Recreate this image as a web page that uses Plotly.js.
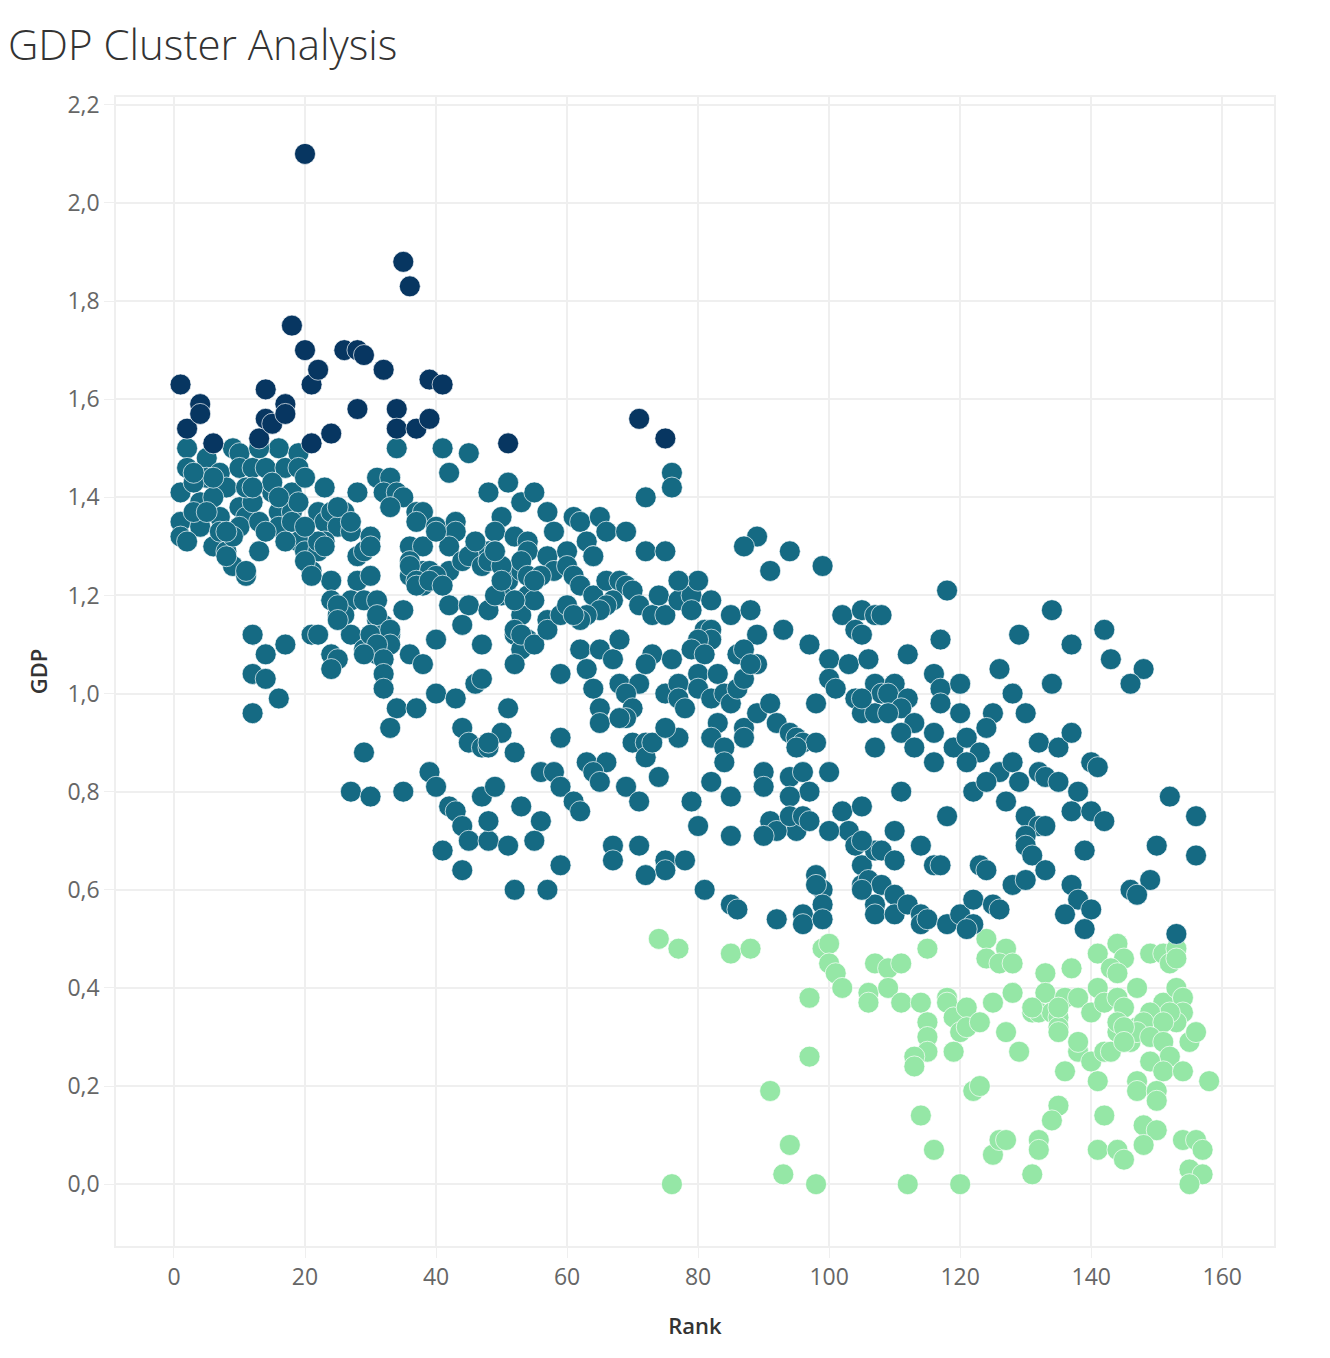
<!DOCTYPE html>
<html>
<head>
<meta charset="utf-8">
<script src="https://cdn.plot.ly/plotly-3.0.1.min.js"></script>
<style>
  html, body { margin: 0; padding: 0; background: #fff; }
  #chart { width: 1330px; height: 1358px; }
</style>
</head>
<body>
<div id="chart"></div>
<script>
// cluster 1: high GDP (dark navy)
const rank1 = [1, 2, 4, 4, 6, 13, 14, 14, 15, 17, 17, 18, 20, 20, 21, 21, 22, 24, 26, 28,
  28, 29, 32, 34, 34, 35, 36, 37, 39, 39, 41, 51, 71, 75];
const gdp1 = [1.63, 1.54, 1.59, 1.57, 1.51, 1.52, 1.62, 1.56, 1.55, 1.59, 1.57, 1.75, 2.10, 1.70, 1.63, 1.51, 1.66, 1.53, 1.70, 1.70,
  1.58, 1.69, 1.66, 1.58, 1.54, 1.88, 1.83, 1.54, 1.64, 1.56, 1.63, 1.51, 1.56, 1.52];

// cluster 2: middle GDP (teal)
const rank2 = [
  2, 2, 1, 1, 1, 5, 5, 4, 4, 7, 7, 6, 8, 9, 10, 10, 10, 11, 10, 8, 9, 11, 13, 12, 14, 13, 15, 16, 13, 17,
  16, 16, 18, 18, 18, 19, 19, 20, 19, 20, 21, 23, 22, 23, 24, 26, 25, 27, 23, 22, 28, 28, 24, 24, 25, 28, 27,
  34, 41, 45, 42, 31, 33, 32, 34, 35, 48,
  33, 37, 38, 37, 40, 43, 43, 51, 50, 53, 55, 49, 52, 54, 25, 27, 30, 29, 30, 36, 38, 42, 46, 48, 49, 36,
  36, 38, 39, 38, 40, 42, 44, 45, 47, 51, 50, 53, 54, 53, 55, 30, 29, 31, 42, 45, 48, 35, 44, 31, 32, 33,
  26, 27, 40, 47, 52, 54, 53, 29, 32, 31, 36,
  8, 11, 2, 20, 21, 22, 23, 25, 25, 21, 22, 24, 25, 24, 31, 30, 33, 33, 31, 32, 29, 32, 32, 36, 40, 37, 37,
  39, 41, 40, 46, 48, 49, 38, 40, 43, 46, 34, 37, 33, 29, 27, 30, 35, 39, 40, 42, 43, 44, 45, 48, 41, 44,
  47, 44, 45, 47, 48, 48, 12, 14, 12, 14, 17, 16, 12,
  57, 58, 61, 62, 63, 64, 65, 66, 69, 72, 76, 76, 72, 75, 54, 53, 54, 50, 49, 50,
  57, 58, 56, 55, 60, 60, 61, 62, 64, 64, 66, 68, 69, 70, 67, 66, 65, 63, 62,
  52, 52, 53, 55, 57, 57, 59, 60, 61, 71, 73, 75, 74, 77, 79, 79, 82, 85, 88, 80, 77,
  81, 82, 82, 80, 89, 93, 89, 87, 94, 91, 99, 102, 105, 107, 104, 105,
  47, 52, 59, 51, 62, 65, 67, 68, 63, 64, 65, 65, 68, 71, 69, 70, 69, 68, 70, 72,
  72, 73, 73, 72, 75, 76, 77, 79, 81, 80, 83, 77, 78, 80, 82, 84, 85, 86, 87, 89, 86, 87, 88,
  83, 87, 87, 89, 91, 92, 94, 95, 96, 98, 95, 97, 100, 103, 106, 100, 101, 104, 105, 107, 107,
  98, 77, 75, 74, 82, 84, 84, 82, 85, 79, 80, 85, 90, 90, 94, 96, 97, 94, 95,
  91, 92, 90, 94, 96, 97, 100, 102, 103, 105, 104, 105, 107, 98, 99, 105, 100,
  59, 56, 58, 59, 61, 62, 63, 66, 64, 65, 50, 48, 52, 49, 53, 56, 51, 55, 59, 52, 57,
  69, 71, 67, 67, 71, 75, 75, 78, 72, 81, 107, 108,
  118, 108, 117, 112, 116, 117, 120, 110, 109, 112, 111, 105, 109, 117, 120, 113, 111, 113, 116, 116,
  119, 121, 123, 121, 126, 129, 134, 137, 142, 143, 148, 146, 134, 128, 125, 124, 130, 132, 135, 137,
  126, 128, 129, 132, 133, 135, 140, 141, 138, 122, 124, 127, 111, 118, 110,
  137, 140, 142, 130, 132, 133, 130, 130, 131, 139, 152, 156, 156, 150, 149, 146, 147, 153,
  105, 114, 108, 110, 106, 108, 110, 107, 107, 110, 112, 114, 114, 115, 118, 116, 117, 123, 124,
  120, 122, 122, 125, 126, 128, 130, 133, 137, 138, 140, 136, 139,
  85, 86, 92, 96, 96, 98, 99, 99, 105, 121,
  3, 6, 3, 7, 9, 12, 15, 17, 19, 6, 3, 11, 14, 8, 5, 16, 12, 20
];
const gdp2 = [
  1.50, 1.46, 1.41, 1.35, 1.32, 1.48, 1.44, 1.39, 1.34, 1.45, 1.36, 1.30, 1.42, 1.50, 1.49, 1.46, 1.38, 1.36, 1.34, 1.29, 1.26, 1.24, 1.29, 1.46, 1.46, 1.35, 1.41, 1.50, 1.50, 1.46,
  1.37, 1.34, 1.41, 1.37, 1.35, 1.49, 1.46, 1.44, 1.31, 1.29, 1.25, 1.42, 1.37, 1.35, 1.37, 1.37, 1.34, 1.33, 1.31, 1.29, 1.41, 1.28, 1.23, 1.19, 1.16, 1.23, 1.19,
  1.50, 1.50, 1.49, 1.45, 1.44, 1.44, 1.41, 1.41, 1.40, 1.41,
  1.38, 1.37, 1.37, 1.35, 1.34, 1.35, 1.33, 1.43, 1.36, 1.39, 1.41, 1.33, 1.32, 1.31, 1.38, 1.35, 1.32, 1.29, 1.30, 1.30, 1.30, 1.30, 1.30, 1.29, 1.29, 1.27,
  1.24, 1.25, 1.25, 1.22, 1.23, 1.25, 1.27, 1.28, 1.26, 1.23, 1.20, 1.25, 1.20, 1.16, 1.19, 1.24, 1.19, 1.19, 1.18, 1.18, 1.17, 1.17, 1.14, 1.15, 1.14, 1.12,
  1.16, 1.12, 1.11, 1.10, 1.12, 1.11, 1.09, 1.09, 1.10, 1.08, 1.08,
  1.28, 1.25, 1.31, 1.27, 1.24, 1.31, 1.30, 1.18, 1.15, 1.12, 1.12, 1.08, 1.07, 1.05, 1.16, 1.12, 1.13, 1.10, 1.10, 1.07, 1.08, 1.04, 1.01, 1.26, 1.24, 1.23, 1.22,
  1.23, 1.22, 1.33, 1.31, 1.27, 1.20, 1.06, 1.00, 0.99, 1.02, 0.97, 0.97, 0.93, 0.88, 0.80, 0.79, 0.80, 0.84, 0.81, 0.77, 0.76, 0.73, 0.70, 0.70, 0.68, 0.64,
  0.79, 0.93, 0.90, 0.89, 0.89, 0.74, 1.12, 1.08, 1.04, 1.03, 1.10, 0.99, 0.96,
  1.37, 1.33, 1.36, 1.35, 1.31, 1.28, 1.36, 1.33, 1.33, 1.40, 1.45, 1.42, 1.29, 1.29, 1.29, 1.27, 1.24, 1.26, 1.29, 1.23,
  1.28, 1.25, 1.24, 1.23, 1.29, 1.26, 1.24, 1.22, 1.20, 1.28, 1.23, 1.23, 1.22, 1.21, 1.19, 1.18, 1.17, 1.16, 1.15,
  1.19, 1.13, 1.12, 1.10, 1.15, 1.13, 1.16, 1.18, 1.16, 1.18, 1.16, 1.16, 1.20, 1.19, 1.20, 1.17, 1.19, 1.16, 1.17, 1.23, 1.23,
  1.13, 1.13, 1.11, 1.11, 1.12, 1.13, 1.32, 1.30, 1.29, 1.25, 1.26, 1.16, 1.17, 1.16, 1.13, 1.12,
  1.03, 1.06, 1.04, 0.97, 1.09, 1.09, 1.07, 1.11, 1.05, 1.01, 0.97, 0.94, 1.02, 1.02, 1.00, 0.97, 0.95, 0.95, 0.90, 0.90,
  0.87, 0.90, 1.08, 1.06, 1.00, 1.07, 1.02, 1.09, 1.08, 1.04, 1.04, 0.99, 0.97, 1.01, 0.99, 1.00, 0.98, 1.01, 1.03, 1.06, 1.08, 1.09, 1.06,
  0.94, 0.93, 0.91, 0.96, 0.98, 0.94, 0.92, 0.91, 0.90, 0.90, 0.89, 1.10, 1.07, 1.06, 1.07, 1.03, 1.01, 0.99, 0.96, 0.96, 0.89,
  0.98, 0.91, 0.93, 0.83, 0.91, 0.89, 0.86, 0.82, 0.79, 0.78, 0.73, 0.71, 0.84, 0.81, 0.83, 0.84, 0.80, 0.79, 0.72,
  0.74, 0.72, 0.71, 0.75, 0.75, 0.74, 0.84, 0.76, 0.72, 0.77, 0.69, 0.65, 0.68, 0.63, 0.60, 0.61, 0.72,
  0.91, 0.84, 0.84, 0.81, 0.78, 0.76, 0.86, 0.86, 0.84, 0.82, 0.92, 0.90, 0.88, 0.81, 0.77, 0.74, 0.69, 0.70, 0.65, 0.60, 0.60,
  0.81, 0.78, 0.69, 0.66, 0.69, 0.66, 0.64, 0.66, 0.63, 0.60, 1.02, 1.00,
  1.21, 1.16, 1.11, 1.08, 1.04, 1.01, 1.02, 1.02, 1.00, 0.99, 0.97, 0.99, 0.96, 0.98, 0.96, 0.94, 0.92, 0.89, 0.92, 0.86,
  0.89, 0.91, 0.88, 0.86, 1.05, 1.12, 1.17, 1.10, 1.13, 1.07, 1.05, 1.02, 1.02, 1.00, 0.96, 0.93, 0.96, 0.90, 0.89, 0.92,
  0.84, 0.86, 0.82, 0.84, 0.83, 0.82, 0.86, 0.85, 0.80, 0.80, 0.82, 0.78, 0.80, 0.75, 0.72,
  0.76, 0.76, 0.74, 0.75, 0.73, 0.73, 0.71, 0.69, 0.67, 0.68, 0.79, 0.75, 0.67, 0.69, 0.62, 0.60, 0.59, 0.51,
  0.70, 0.69, 0.68, 0.66, 0.62, 0.61, 0.59, 0.57, 0.55, 0.55, 0.57, 0.55, 0.53, 0.54, 0.53, 0.65, 0.65, 0.65, 0.64,
  0.55, 0.58, 0.53, 0.57, 0.56, 0.61, 0.62, 0.64, 0.61, 0.58, 0.56, 0.55, 0.52,
  0.57, 0.56, 0.54, 0.55, 0.53, 0.61, 0.57, 0.54, 0.60, 0.52,
  1.43, 1.40, 1.37, 1.33, 1.32, 1.39, 1.43, 1.31, 1.39, 1.44, 1.45, 1.42, 1.33, 1.33, 1.37, 1.40, 1.42, 1.34
];

// cluster 3: low GDP (light green)
const rank3 = [
  74, 77, 85, 88, 99, 100, 100, 101, 102, 97, 97, 91, 94, 93, 76, 98,
  106, 106, 107, 109, 109, 111, 111, 114, 115, 115, 115, 115, 113, 113, 114, 116, 112, 120,
  118, 118, 119, 121, 120, 121, 123, 119, 122, 123, 124, 124, 127, 126, 128, 125, 128, 127, 129, 125, 126, 127, 132, 132, 131,
  133, 131, 132, 133, 134, 135, 135, 135, 136, 138, 137, 136, 135, 134, 138, 138, 140, 140,
  141, 144, 145, 141, 143, 144, 142, 144, 145, 147, 144, 146, 147, 142, 143, 141, 142, 141, 144, 145, 147, 147,
  149, 151, 152, 153, 153, 151, 153, 154, 154, 153, 152, 149, 148, 151,
  147, 149, 151, 152, 149, 151, 154, 158, 150, 150, 155, 156,
  148, 150, 148, 154, 156, 157, 155, 157, 155, 131, 135, 144, 145, 145
];
const gdp3 = [
  0.50, 0.48, 0.47, 0.48, 0.48, 0.49, 0.45, 0.43, 0.40, 0.38, 0.26, 0.19, 0.08, 0.02, 0.00, 0.00,
  0.39, 0.37, 0.45, 0.44, 0.40, 0.45, 0.37, 0.37, 0.48, 0.33, 0.30, 0.27, 0.26, 0.24, 0.14, 0.07, 0.00, 0.00,
  0.38, 0.37, 0.34, 0.36, 0.31, 0.32, 0.33, 0.27, 0.19, 0.20, 0.50, 0.46, 0.48, 0.45, 0.45, 0.37, 0.39, 0.31, 0.27, 0.06, 0.09, 0.09, 0.09, 0.07, 0.02,
  0.43, 0.35, 0.35, 0.39, 0.35, 0.34, 0.32, 0.31, 0.38, 0.38, 0.44, 0.23, 0.16, 0.13, 0.27, 0.29, 0.25, 0.35,
  0.47, 0.49, 0.46, 0.40, 0.44, 0.43, 0.37, 0.38, 0.36, 0.40, 0.31, 0.29, 0.32, 0.27, 0.27, 0.21, 0.14, 0.07, 0.07, 0.05, 0.21, 0.19,
  0.47, 0.47, 0.45, 0.48, 0.46, 0.37, 0.40, 0.38, 0.35, 0.33, 0.35, 0.35, 0.33, 0.33,
  0.31, 0.30, 0.29, 0.26, 0.25, 0.23, 0.23, 0.21, 0.19, 0.17, 0.29, 0.31,
  0.12, 0.11, 0.08, 0.09, 0.09, 0.07, 0.03, 0.02, 0.00, 0.36, 0.36, 0.33, 0.32, 0.29
];

const colors = ['#073661', '#156a83', '#95e7a6'];

function clusterTrace(xs, ys, name, color) {
    return {
        x: xs,
        y: ys,
        name: name,
        type: 'scatter',
        mode: 'markers',
        marker: {
            size: 21,
            color: color,
            line: { color: 'rgba(255,255,255,0.85)', width: 0.8 }
        },
        hovertemplate: 'Rank %{x}<br>GDP %{y}<extra>' + name + '</extra>'
    };
}

const traces = [
    clusterTrace(rank3, gdp3, 'Cluster 3', colors[2]),
    clusterTrace(rank2, gdp2, 'Cluster 2', colors[1]),
    clusterTrace(rank1, gdp1, 'Cluster 1', colors[0])
];

const gridColor = '#efefef';
const tickFont = { family: 'Open Sans, sans-serif', size: 23, color: '#666' };
const axisTitleFont = { family: 'Open Sans, sans-serif', size: 22, color: '#333', weight: 600 };

const layout = {
    width: 1330,
    height: 1358,
    margin: { l: 116, r: 56, t: 97, b: 112 },
    paper_bgcolor: '#fff',
    plot_bgcolor: '#fff',
    separators: ',.',
    showlegend: false,
    title: {
        text: 'GDP Cluster Analysis',
        font: { family: 'Open Sans, sans-serif', size: 42, color: '#333', weight: 300 },
        xref: 'container', x: 0.006, xanchor: 'left',
        yref: 'container', y: 0.967, yanchor: 'middle'
    },
    xaxis: {
        range: [-8.85, 167.9],
        dtick: 20,
        tick0: 0,
        showgrid: true,
        gridcolor: gridColor,
        gridwidth: 1.5,
        zeroline: false,
        showline: true,
        linecolor: gridColor,
        linewidth: 1.5,
        mirror: true,
        ticks: 'outside',
        ticklen: 10,
        tickcolor: gridColor,
        tickfont: tickFont,
        title: { text: 'Rank', font: axisTitleFont, standoff: 27 }
    },
    yaxis: {
        range: [-0.126, 2.216],
        dtick: 0.2,
        tick0: 0,
        tickformat: '.1f',
        showgrid: true,
        gridcolor: gridColor,
        gridwidth: 1.5,
        zeroline: false,
        showline: true,
        linecolor: gridColor,
        linewidth: 1.5,
        mirror: true,
        ticks: 'outside',
        ticklen: 10,
        tickcolor: gridColor,
        tickfont: tickFont,
        title: { text: 'GDP', font: axisTitleFont, standoff: 14 }
    },
    shapes: [
        { type: 'line', layer: 'below', xref: 'x', yref: 'paper', x0: 0, x1: 0, y0: 0, y1: 1,
          line: { color: '#c4c4c4', width: 1.5, dash: '4px,3px' } },
        { type: 'line', layer: 'below', xref: 'paper', yref: 'y', x0: 0, x1: 1, y0: 0, y1: 0,
          line: { color: '#c4c4c4', width: 1.5, dash: '4px,3px' } }
    ]
};

Plotly.newPlot('chart', traces, layout, { displayModeBar: false, responsive: false });
</script>
</body>
</html>
